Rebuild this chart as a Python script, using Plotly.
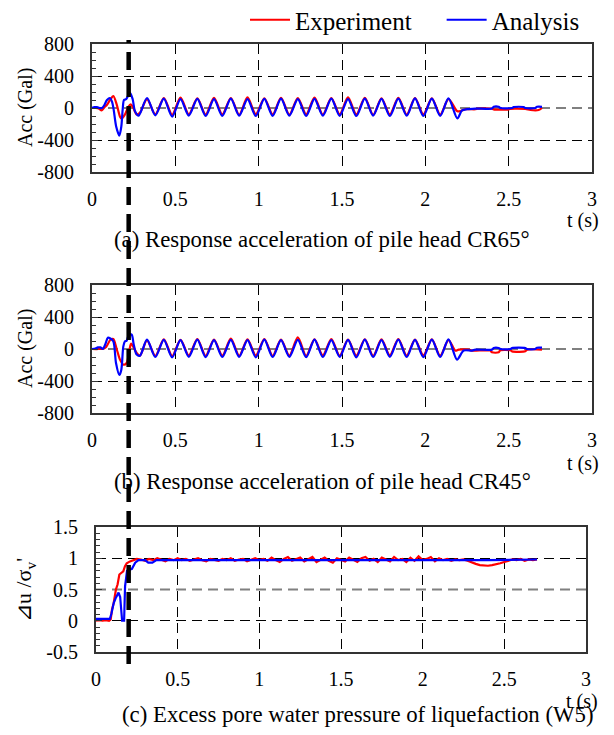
import plotly.graph_objects as go

# ---------------- data ----------------
LIQ_T = 0.22  # time of liquefaction marker (s)

# shared oscillation peak/trough times (panels a, b)
OSC_T = [0.330, 0.380, 0.431, 0.481, 0.531, 0.581, 0.632, 0.682, 0.732, 0.782,
         0.833, 0.883, 0.933, 0.983, 1.034, 1.084, 1.134, 1.184, 1.235, 1.285,
         1.335, 1.385, 1.436, 1.486, 1.536, 1.586, 1.637, 1.687, 1.737, 1.787,
         1.838, 1.888, 1.938, 1.988, 2.039, 2.089, 2.139]

# Panel (a) CR65
EXP_A_PRE_T = [0.000, 0.020, 0.040, 0.058, 0.075, 0.090, 0.108, 0.128, 0.148, 0.168,
               0.178, 0.198, 0.218, 0.232, 0.248, 0.268, 0.288]
EXP_A_PRE_V = [0, 0, -5, -30, 10, 40, 100, 150, 45, -108,
               -133, -80, 15, 45, 0, -80, -58]
EXP_A_OSC_V = [110, -80, 125, -85, 130, -78, 120, -82, 128, -80, 125, -85, 132, -78,
               122, -80, 128, -84, 125, -80, 130, -82, 125, -78, 132, -80, 128, -85,
               122, -80, 128, -82, 125, -80, 120, -82, 110]
EXP_A_POST_T = [2.190, 2.210, 2.240, 2.300, 2.310, 2.400, 2.410, 2.500, 2.510, 2.600,
                2.630, 2.680, 2.700]
EXP_A_POST_V = [-37, -40, -16, -16, -8, -8, -18, -18, -10, -12, -25, -25, 0]

ANA_A_PRE_T = [0.000, 0.015, 0.030, 0.045, 0.060, 0.075, 0.090, 0.108, 0.120, 0.130,
               0.145, 0.164, 0.176, 0.184, 0.192, 0.205, 0.228, 0.244, 0.258, 0.280]
ANA_A_PRE_V = [0, 10, 10, 0, 0, 40, 100, 125, 80, -20,
               -230, -345, -230, -20, 100, 110, 190, 110, -40, -95]
ANA_A_OSC_V = [125, -92, 118, -108, 112, -95, 115, -100, 110, -98, 118, -95, 112, -100,
               115, -98, 118, -95, 112, -100, 115, -96, 118, -98, 112, -100, 118, -95,
               115, -100, 118, -96, 120, -100, 118, -98, 120]
ANA_A_POST_T = [2.192, 2.220, 2.250, 2.300, 2.400, 2.410, 2.440, 2.450, 2.520, 2.530,
                2.590, 2.600, 2.660, 2.670, 2.700]
ANA_A_POST_V = [-130, -30, -15, -8, -5, 15, 15, 0, 0, 12, 12, 0, 0, 15, 15]

# Panel (b) CR45
EXP_B_PRE_T = [0.000, 0.040, 0.070, 0.085, 0.111, 0.128, 0.148, 0.168, 0.188, 0.208,
               0.225, 0.235, 0.250, 0.268, 0.288]
EXP_B_PRE_V = [0, 0, 5, 25, 117, 125, 0, -133, -196, -175, -8, 67, 20, -50, -83]
EXP_B_OSC_V = [108, -85, 120, -88, 115, -80, 125, -85, 118, -82, 130, -85, 120, -80,
               125, -86, 118, -82, 146, -85, 120, -80, 125, -84, 118, -82, 122, -85,
               120, -80, 125, -82, 118, -80, 120, -84, 112]
EXP_B_POST_T = [2.180, 2.200, 2.260, 2.280, 2.390, 2.400, 2.440, 2.450, 2.510, 2.520,
                2.600, 2.610, 2.700]
EXP_B_POST_V = [-20, -8, -8, -20, -20, -42, -42, -16, -16, -29, -29, -8, -8]

ANA_B_PRE_T = [0.000, 0.020, 0.035, 0.050, 0.065, 0.080, 0.095, 0.108, 0.128, 0.144,
               0.164, 0.176, 0.188, 0.198, 0.208, 0.222, 0.238, 0.250, 0.268, 0.288]
ANA_B_PRE_V = [0, 5, 20, 20, 0, 60, 140, 135, 96, -175,
               -325, -258, 33, 96, 104, 179, 179, 60, -70, -83]
ANA_B_OSC_V = [117, -100, 115, -105, 112, -98, 118, -102, 110, -100, 115, -98, 112, -104,
               118, -100, 112, -98, 115, -102, 118, -100, 112, -98, 115, -104, 118, -100,
               112, -98, 118, -100, 115, -102, 118, -100, 120]
ANA_B_POST_T = [2.190, 2.230, 2.280, 2.300, 2.400, 2.410, 2.440, 2.450, 2.510, 2.520,
                2.600, 2.610, 2.660, 2.670, 2.700]
ANA_B_POST_V = [-133, -20, -20, -8, -8, 12, 12, 0, 0, 12, 12, 0, 0, 16, 16]

# Panel (c) excess pore water pressure ratio
EXP_C_T = [0.000, 0.020, 0.040, 0.060, 0.080, 0.090, 0.098, 0.108, 0.122, 0.132,
           0.143, 0.155, 0.167, 0.177, 0.188, 0.208, 0.225,
           0.250, 0.275, 0.300, 0.325, 0.350, 0.375, 0.400, 0.425, 0.450, 0.475, 0.500,
           0.525, 0.550, 0.575, 0.600, 0.625, 0.650, 0.675, 0.700, 0.725, 0.750,
           0.775, 0.800, 0.825, 0.850, 0.875, 0.900, 0.925, 0.950, 0.975, 1.000,
           1.025, 1.050, 1.075, 1.100, 1.125, 1.150, 1.175, 1.200, 1.225, 1.250,
           1.275, 1.300, 1.325, 1.350, 1.375, 1.400, 1.425, 1.450, 1.475, 1.500,
           1.525, 1.550, 1.575, 1.600, 1.625, 1.650, 1.675, 1.700, 1.725, 1.750,
           1.775, 1.800, 1.825, 1.850, 1.875, 1.900, 1.925, 1.950, 1.975, 2.000,
           2.025, 2.050, 2.075, 2.100, 2.125, 2.150, 2.175, 2.200, 2.225, 2.250,
           2.275, 2.300, 2.325, 2.350, 2.375, 2.400, 2.425, 2.450, 2.475, 2.500,
           2.525, 2.550, 2.575, 2.600, 2.625, 2.650, 2.675, 2.700]
EXP_C_V = [0.00, 0.01, 0.00, 0.01, 0.00, 0.02, 0.18, 0.28, 0.50, 0.58,
           0.74, 0.77, 0.79, 0.87, 0.92, 0.95, 0.97,
           0.99, 0.98, 0.96, 0.99, 0.97, 1.00, 0.98, 0.95, 0.99, 0.97, 1.00,
           0.97, 0.99, 0.96, 0.98, 1.00, 0.97, 0.95, 0.99, 0.98, 0.96,
           0.99, 0.97, 1.00, 0.96, 0.98, 0.99, 0.95, 0.98, 1.00, 0.97,
           0.99, 0.96, 1.01, 0.97, 0.94, 0.99, 1.02, 0.96, 0.98, 1.01,
           0.95, 0.99, 1.02, 0.94, 0.98, 1.01, 0.96, 0.93, 1.00, 0.98,
           0.95, 1.01, 0.97, 0.94, 1.00, 1.02, 0.96, 0.99, 0.94, 1.01,
           0.98, 0.95, 1.02, 0.97, 0.99, 0.94, 1.01, 0.96, 1.03, 0.97,
           0.99, 1.02, 0.95, 1.00, 0.97, 0.99, 0.96, 0.98, 0.97, 0.98,
           0.96, 0.93, 0.91, 0.89, 0.88, 0.88, 0.89, 0.90, 0.92, 0.94,
           0.96, 0.98, 0.97, 0.99, 0.96, 0.98, 0.97, 0.98]

ANA_C_T = [0.000, 0.085, 0.095, 0.108, 0.120, 0.130, 0.138, 0.148, 0.155, 0.160,
           0.172, 0.178, 0.190, 0.220, 0.240, 0.260, 0.300, 0.320, 0.345, 0.370,
           0.450, 0.700, 1.000, 1.500, 2.000, 2.400, 2.700]
ANA_C_V = [0.03, 0.03, 0.12, 0.28, 0.36, 0.42, 0.45, 0.38, 0.20, 0.00,
           0.00, 0.55, 0.80, 0.83, 0.93, 0.97, 0.97, 0.93, 0.93, 0.97,
           0.97, 0.97, 0.96, 0.97, 0.97, 0.97, 0.98]

X_TICKS = [0, 0.5, 1, 1.5, 2, 2.5, 3]
X_TICK_TEXT = ["0", "0.5", "1", "1.5", "2", "2.5", "3"]
ACC_TICKS = [-800, -400, 0, 400, 800]
ACC_TICK_TEXT = ["-800", "-400", "0", "400", "800"]
PWP_TICKS = [-0.5, 0, 0.5, 1, 1.5]
PWP_TICK_TEXT = ["-0.5", "0", "0.5", "1", "1.5"]

SERIES_NAMES = ["Experiment", "Analysis"]
CAPTIONS = ["(a) Response acceleration of pile head CR65°",
            "(b) Response acceleration of pile head CR45°",
            "(c) Excess pore water pressure of liquefaction (W5)"]

# ---------------- figure ----------------
# page body keeps its default 8px margin -> figure is 598 x 719 inside 614 x 735 window
W, H = 598, 719
OFF = 8
def fx(p): return (p - OFF) / W
def fy(p): return 1 - (p - OFF) / H

FONT = "Liberation Serif, Times New Roman, serif"
RED, BLUE = "#ff0000", "#0000ff"
GRID_DASH = "10px,6px"
NBSP = "\u00a0"

fig = go.Figure()

def add_pair(t_e, v_e, t_a, v_a, xa, ya, show, shape):
    fig.add_trace(go.Scatter(x=t_e, y=v_e, mode="lines", name=SERIES_NAMES[0] + NBSP * 4,
                             line=dict(color=RED, width=2.2, shape=shape, smoothing=0.8),
                             xaxis=xa, yaxis=ya, showlegend=show))
    fig.add_trace(go.Scatter(x=t_a, y=v_a, mode="lines", name=SERIES_NAMES[1],
                             line=dict(color=BLUE, width=2.2, shape=shape, smoothing=0.8),
                             xaxis=xa, yaxis=ya, showlegend=show))

add_pair(EXP_A_PRE_T + OSC_T + EXP_A_POST_T, EXP_A_PRE_V + EXP_A_OSC_V + EXP_A_POST_V,
         ANA_A_PRE_T + OSC_T + ANA_A_POST_T, ANA_A_PRE_V + ANA_A_OSC_V + ANA_A_POST_V,
         "x", "y", True, "spline")
add_pair(EXP_B_PRE_T + OSC_T + EXP_B_POST_T, EXP_B_PRE_V + EXP_B_OSC_V + EXP_B_POST_V,
         ANA_B_PRE_T + OSC_T + ANA_B_POST_T, ANA_B_PRE_V + ANA_B_OSC_V + ANA_B_POST_V,
         "x2", "y2", False, "spline")
add_pair(EXP_C_T, EXP_C_V, ANA_C_T, ANA_C_V, "x3", "y3", False, "linear")

tickfont = dict(family=FONT, size=20, color="black")

def xax(dom, anchor):
    return dict(domain=dom, anchor=anchor, range=[0, 3], tickvals=X_TICKS, ticktext=X_TICK_TEXT,
                showgrid=True, gridcolor="black", gridwidth=1, griddash=GRID_DASH,
                showline=True, mirror=True, linecolor="#333", linewidth=2,
                zeroline=False, ticks="", tickfont=tickfont, ticklabelstandoff=8,
                fixedrange=True, automargin=False)

def yax(dom, anchor, rng, tv, tt, minor_dt):
    return dict(domain=dom, anchor=anchor, range=rng, tickvals=tv, ticktext=tt,
                showgrid=True, gridcolor="black", gridwidth=1, griddash=GRID_DASH,
                showline=True, mirror=True, linecolor="#333", linewidth=2,
                zeroline=False, ticks="inside", ticklen=6, tickcolor="#333",
                minor=dict(dtick=minor_dt, ticks="inside", ticklen=4, tickcolor="#333", showgrid=False),
                tickfont=tickfont, ticklabelstandoff=12, fixedrange=True, automargin=False)

fig.update_layout(
    width=W, height=H, margin=dict(l=0, r=0, t=0, b=0, pad=0, autoexpand=False),
    paper_bgcolor="white", plot_bgcolor="white",
    font=dict(family=FONT, color="black"),
    xaxis=xax([fx(92), fx(592)], "y"),
    yaxis=yax([fy(172), fy(44)], "x", [-800, 800], ACC_TICKS, ACC_TICK_TEXT, 100),
    xaxis2=xax([fx(92), fx(592)], "y2"),
    yaxis2=yax([fy(413), fy(285)], "x2", [-800, 800], ACC_TICKS, ACC_TICK_TEXT, 100),
    xaxis3=xax([fx(96), fx(586)], "y3"),
    yaxis3=yax([fy(652), fy(527)], "x3", [-0.5, 1.5], PWP_TICKS, PWP_TICK_TEXT, 0.1),
    legend=dict(orientation="h", x=fx(245), y=1 + 11 / H, xanchor="left", yanchor="top",
                font=dict(family=FONT, size=25, color="black"), bgcolor="rgba(0,0,0,0)",
                itemwidth=40, borderwidth=0),
    showlegend=True,
)

# gray middle reference lines
for xr, yr, yv in [("x", "y", 0), ("x2", "y2", 0), ("x3", "y3", 0.5)]:
    fig.add_shape(type="line", xref=xr, yref=yr, x0=0, x1=3, y0=yv, y1=yv,
                  line=dict(color="#808080", width=2, dash=GRID_DASH), layer="between")

# thick dashed liquefaction marker
fig.add_shape(type="line", xref="x", yref="paper", x0=LIQ_T, x1=LIQ_T,
              y0=fy(664), y1=fy(40), line=dict(color="black", width=4.5, dash="18px,9px"),
              layer="above")

ann = []
for yc in (108, 349):
    ann.append(dict(text="Acc (Gal)", x=fx(25), y=fy(yc), textangle=-90,
                    font=dict(family=FONT, size=20)))
ann.append(dict(text="⊿u /σ<sub>v</sub>'", x=fx(25), y=fy(590), textangle=-90,
                font=dict(family=FONT, size=22)))
for (xc, yc) in [(583, 221), (583, 463), (582, 701)]:
    ann.append(dict(text="t (s)", x=fx(xc), y=fy(yc), font=dict(family=FONT, size=20)))
for cap, (xc, yc) in zip(CAPTIONS, [(322, 240), (322, 481), (358, 714)]):
    ann.append(dict(text=cap, x=fx(xc), y=fy(yc), font=dict(family=FONT, size=22.8)))
for a in ann:
    a.update(xref="paper", yref="paper", showarrow=False, xanchor="center", yanchor="middle",
             borderpad=0)
fig.update_layout(annotations=ann)

fig.write_html("out.html", config={"displayModeBar": False})
